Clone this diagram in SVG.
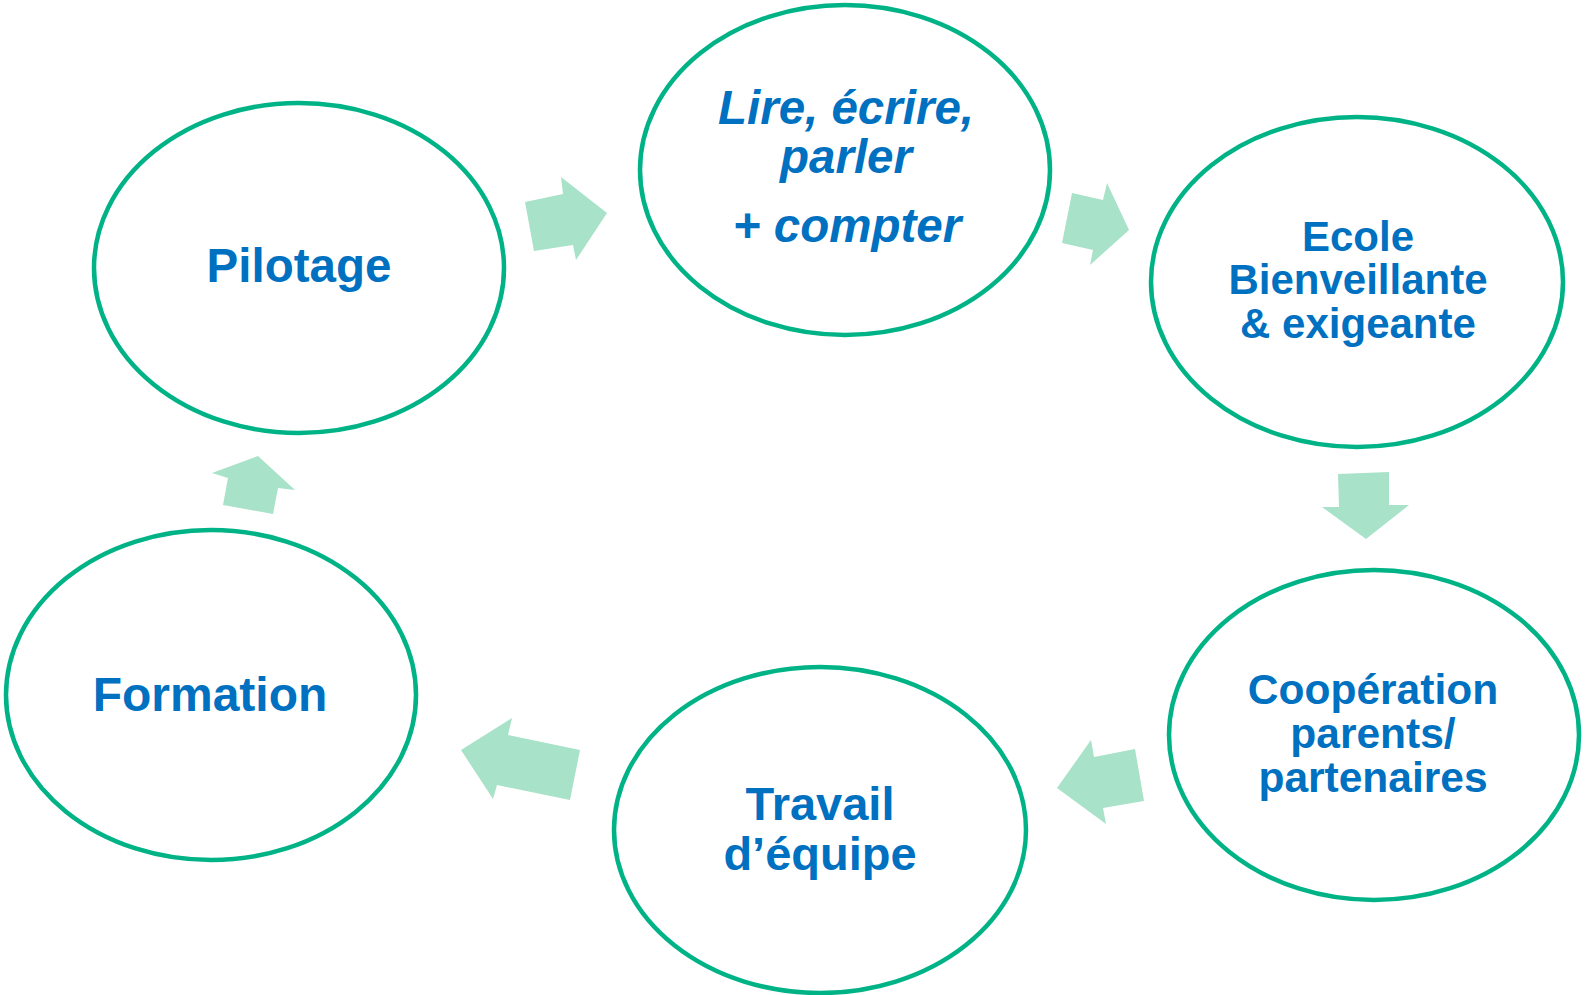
<svg xmlns="http://www.w3.org/2000/svg" width="1589" height="995" viewBox="0 0 1589 995">
<style>
.n{fill:#fff;stroke:#00B386;stroke-width:4.5}
.a{fill:#A8E2C8}
.t{font-family:"Liberation Sans",Arial,sans-serif;font-weight:bold;fill:#0070C0;text-anchor:middle}
.i{font-style:italic}
</style>
<rect width="1589" height="995" fill="#fff"/>
<g id="connectors">
<polygon class="a" points="525,202 563,194 561,177 607,213 576,260 573,245 534,251"/>
<polygon class="a" points="1072,193 1103,200 1107,183 1129,230 1090,265 1093,250 1062,243"/>
<polygon class="a" points="1338,474 1389,472 1389,505 1409,505 1366,539 1322,507 1339,507"/>
<polygon class="a" points="1091,740 1094,757 1135,749 1144,801 1103,808 1106,824 1057,788"/>
<polygon class="a" points="512,718 508,735 580,750 570,800 497,785 493,799 461,750"/>
<polygon class="a" points="212,473 258,456 295,490 278,488 273,514 223,505 228,478"/>
</g>
<g id="pilotage">
<ellipse class="n" cx="299" cy="268" rx="205" ry="165"/>
<text class="t" x="299" y="282" font-size="47.5">Pilotage</text>
</g>
<g id="lire">
<ellipse class="n" cx="845" cy="170" rx="205" ry="165"/>
<text class="t i" font-size="47.5"><tspan x="846" y="124">Lire, écrire,</tspan><tspan x="846" y="173">parler</tspan><tspan x="847" y="242">+ compter</tspan></text>
</g>
<g id="ecole">
<ellipse class="n" cx="1357" cy="282" rx="206" ry="165"/>
<text class="t" font-size="42"><tspan x="1358" y="251">Ecole</tspan><tspan x="1358" y="294">Bienveillante</tspan><tspan x="1358" y="338">&amp; exigeante</tspan></text>
</g>
<g id="cooperation">
<ellipse class="n" cx="1374" cy="735" rx="205" ry="165"/>
<text class="t" font-size="42.5"><tspan x="1373" y="704">Coopération</tspan><tspan x="1373" y="748">parents/</tspan><tspan x="1373" y="792">partenaires</tspan></text>
</g>
<g id="travail">
<ellipse class="n" cx="820" cy="830" rx="206" ry="163"/>
<text class="t" font-size="47"><tspan x="820" y="820">Travail</tspan><tspan x="820" y="870">d’équipe</tspan></text>
</g>
<g id="formation">
<ellipse class="n" cx="211" cy="695" rx="205" ry="165"/>
<text class="t" x="210" y="711" font-size="48">Formation</text>
</g>
</svg>
